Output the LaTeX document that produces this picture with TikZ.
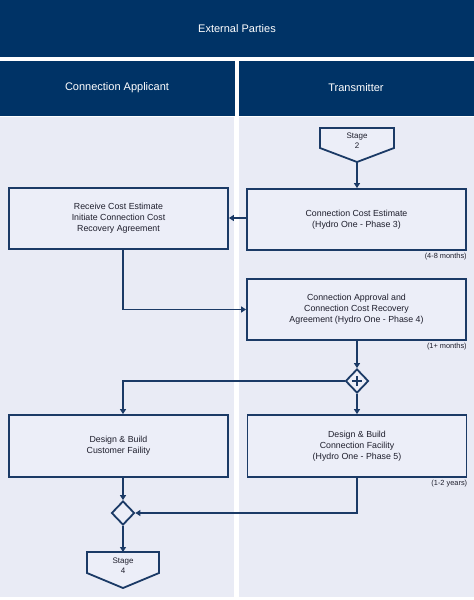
\documentclass[tikz,border=0pt]{standalone}
\usepackage{fontspec}
\setmainfont{Liberation Sans}
\usetikzlibrary{shapes.geometric,arrows.meta}
\definecolor{navy}{HTML}{003366}
\definecolor{lane}{HTML}{E9EBF5}
\definecolor{boxfill}{HTML}{ECEEF8}
\definecolor{edge}{HTML}{1B3A66}
\definecolor{txt}{HTML}{1E1E2C}
\begin{document}
\begin{tikzpicture}[x=1pt,y=-1pt,
  hdr/.style={fill=navy,draw=none},
  hdrtext/.style={text=white,font=\fontsize{11}{13}\selectfont},
  procbox/.style={draw=edge,line width=1.8pt,fill=boxfill,minimum width=219pt,minimum height=61pt,inner sep=0pt,align=center,text=txt,font=\fontsize{8.8}{10.8}\selectfont},
  note/.style={anchor=north east,inner sep=0pt,text=txt,font=\fontsize{7.4}{9}\selectfont},
  gate/.style={diamond,draw=edge,line width=1.8pt,fill=boxfill,minimum width=23pt,minimum height=24pt,inner sep=0pt},
  stagetext/.style={align=center,text=txt,inner sep=0pt,font=\fontsize{8}{10}\selectfont},
  stageshape/.style={draw=edge,line width=1.8pt,fill=boxfill},
  conn/.style={draw=edge,line width=1.8pt,-{Triangle[length=5pt,width=6pt]}}
]
\useasboundingbox (0,0) rectangle (474,600);
\fill[white] (0,0) rectangle (474,600);
% headers
\fill[hdr] (0,0) rectangle (474,57);
\fill[hdr] (0,61) rectangle (235,116);
\fill[hdr] (239,61) rectangle (474,116);
\node[hdrtext] (hext) at (237,29) {External Parties};
\node[hdrtext] (happ) at (117,88) {Connection Applicant};
\node[hdrtext] (htr) at (356,88) {Transmitter};
% lanes
\fill[lane] (0,117) rectangle (234,597);
\fill[lane] (239,117) rectangle (474,597);

\coordinate (cl) at (123,0);
\coordinate (cr) at (357,0);

% stage 2
\draw[stageshape] (320,128) -- (394,128) -- (394,148) -- (357,162) -- (320,148) -- cycle;
\node[stagetext] (s2) at (357,141) {Stage\\2};
\coordinate (s2tip) at (357,162);

% boxes
\node[procbox] (cce) at (356.5,219.5) {Connection Cost Estimate\\(Hydro One - Phase 3)};
\node[note] (n1) at ([yshift=-2.5pt]cce.south east) {(4-8 months)};
\node[procbox] (rce) at (118.5,218.5) {Receive Cost Estimate\\Initiate Connection Cost\\Recovery Agreement};
\node[procbox] (apr) at (356.5,309.5) {Connection Approval and\\Connection Cost Recovery\\Agreement (Hydro One - Phase 4)};
\node[note] (n2) at ([yshift=-2.5pt]apr.south east) {(1+ months)};
\node[gate] (g1) at (357,381) {};
\draw[edge,line width=1.8pt] ([xshift=-5pt]g1.center) -- ([xshift=5pt]g1.center) ([yshift=-5pt]g1.center) -- ([yshift=5pt]g1.center);
\node[procbox,minimum height=62pt] (dbc) at (118.5,446) {Design \& Build\\Customer Faility};
\node[procbox,minimum height=62pt] (dbt) at (357,446) {Design \& Build\\Connection Facility\\(Hydro One - Phase 5)};
\node[note] (n3) at ([yshift=-2.5pt]dbt.south east) {(1-2 years)};
\node[gate] (g2) at (123,513) {};

% stage 4
\draw[stageshape] (87,552) -- (159,552) -- (159,573) -- (123,588) -- (87,573) -- cycle;
\node[stagetext] (s4) at (123,566) {Stage\\4};
\coordinate (s4top) at (123,552);

% connectors
\draw[conn] (s2tip) -- (s2tip |- cce.north);
\draw[conn] (cce.west |- 0,218) -- (rce.east |- 0,218);
\draw[conn] (rce.south -| cl) -- (cl |- apr.west) -- (apr.west);
\draw[conn] (apr.south -| cr) -- (g1.north);
\draw[conn] (g1.west) -- (cl |- g1.west) -- (dbc.north -| cl);
\draw[conn] (g1.south) -- (dbt.north -| cr);
\draw[conn] (dbc.south -| g2) -- (g2.north);
\draw[conn] (dbt.south -| cr) -- (cr |- g2.east) -- (g2.east);
\draw[conn] (g2.south) -- (s4top);
\end{tikzpicture}
\end{document}
